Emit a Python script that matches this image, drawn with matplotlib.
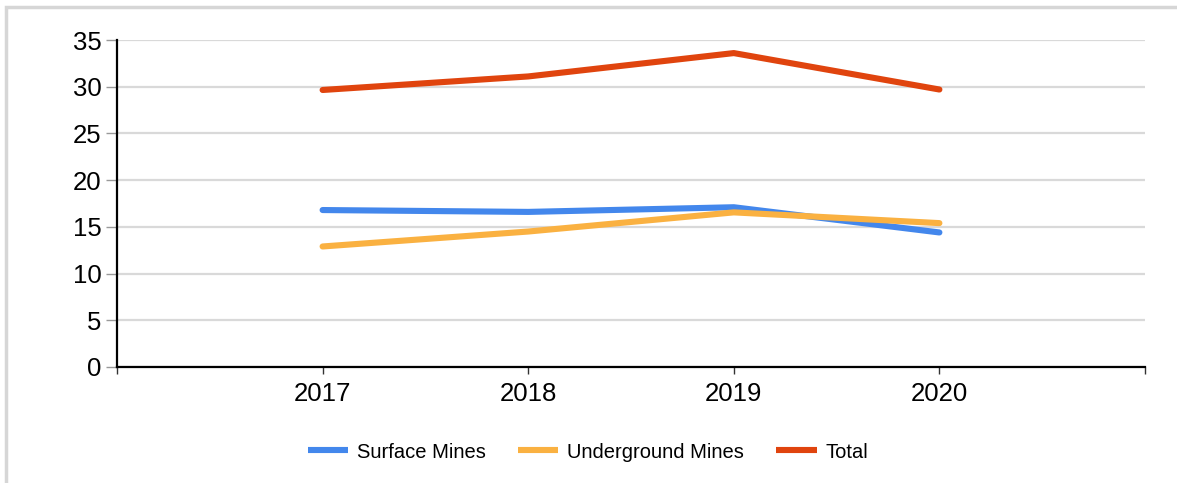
import matplotlib
matplotlib.use("Agg")
import matplotlib.pyplot as plt
from matplotlib.patches import Rectangle

years = ["2017", "2018", "2019", "2020"]
surface = [16.8, 16.6, 17.1, 14.4]
underground = [12.9, 14.5, 16.55, 15.4]
total = [29.65, 31.1, 33.6, 29.7]
yticks = [0, 5, 10, 15, 20, 25, 30, 35]

plt.rcParams['font.family'] = ['Liberation Sans', 'DejaVu Sans']

fig = plt.figure(figsize=(11.77, 4.83), dpi=100)
fig.patch.set_facecolor('white')
# outer frame (top and left visible)
fig.add_artist(Rectangle((6/1177, -0.1), 1.2, 1 - 7/483 + 0.1, transform=fig.transFigure,
                         fill=False, edgecolor='#d6d6d6', linewidth=2.5))

ax = fig.add_axes([117/1177, 1 - 367/483, (1145 - 117)/1177, (367 - 40)/483])
x = list(range(1, len(years) + 1))
ax.plot(x, surface, color='#4387ec', lw=4.4, solid_capstyle='round', label='Surface Mines', zorder=3)
ax.plot(x, underground, color='#fab141', lw=4.4, solid_capstyle='round', label='Underground Mines', zorder=3)
ax.plot(x, total, color='#e0440e', lw=4.4, solid_capstyle='round', label='Total', zorder=3)

ax.set_xlim(0, len(years) + 1)
ax.set_ylim(0, 35)
ax.set_yticks(yticks)
ax.set_yticklabels([str(v) for v in yticks], fontsize=18.5)
ax.set_xticks([0] + x + [len(years) + 1])
ax.set_xticklabels([''] + years + [''], fontsize=18.5)
ax.grid(axis='y', color='#d9d9d9', lw=1.6, zorder=0)
ax.set_axisbelow(True)
for s in ['top', 'right']:
    ax.spines[s].set_visible(False)
ax.spines['left'].set_linewidth(1.6)
ax.spines['bottom'].set_linewidth(1.6)
ax.tick_params(axis='y', length=8, color='#999999', width=1, pad=3)
ax.tick_params(axis='x', length=5, color='#333333', width=1, pad=6)

leg = fig.legend(loc='center', bbox_to_anchor=(588/1177, 1 - 452/483), ncol=3, frameon=False,
                 fontsize=14.5, handlelength=2.0, columnspacing=1.6, handletextpad=0.45)
for ln in leg.get_lines():
    ln.set_solid_capstyle('butt')

fig.savefig('out.png', dpi=100)
